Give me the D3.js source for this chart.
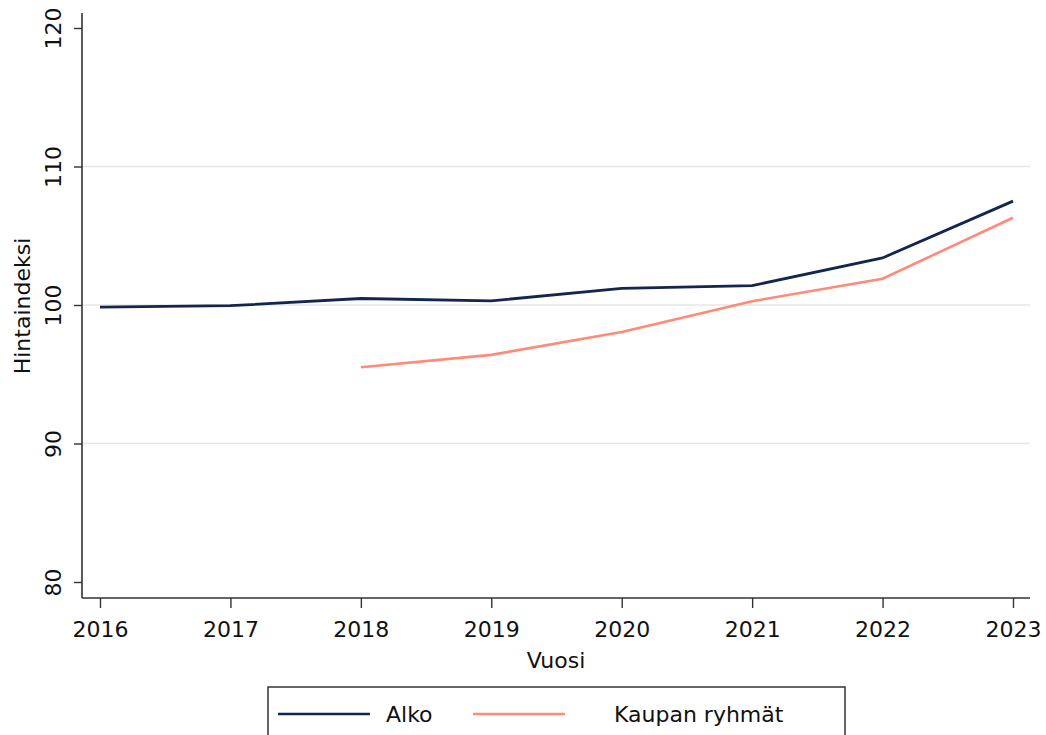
<!DOCTYPE html>
<html>
<head>
<meta charset="utf-8">
<script src="https://cdn.jsdelivr.net/npm/d3@7"></script>
<style>
  body { margin: 0; background: #fff; }
  svg text { font-family: "DejaVu Sans", "Noto Sans", sans-serif; fill: #111; }
</style>
</head>
<body>
<svg id="chart"></svg>
<script>
// data
let years = [2016, 2017, 2018, 2019, 2020, 2021, 2022, 2023];
let alko = [99.85, 99.95, 100.47, 100.3, 101.2, 101.4, 103.4, 107.5];
let kaupanYears = [2018, 2019, 2020, 2021, 2022, 2023];
let kaupan = [95.5, 96.4, 98.05, 100.27, 101.9, 106.3];
let yTicks = [80, 90, 100, 110, 120];
let gridTicks = [90, 100, 110];

let width = 1046, height = 735;
let svg = d3.select("#chart").attr("width", width).attr("height", height);

let x = d3.scaleLinear().domain([2016, 2023]).range([100, 1013]);
let y = d3.scaleLinear().domain([80, 120]).range([582, 28]);

// grid lines
svg.append("g")
  .selectAll("line")
  .data(gridTicks)
  .join("line")
  .attr("x1", 83).attr("x2", 1030)
  .attr("y1", d => y(d)).attr("y2", d => y(d))
  .attr("stroke", "#e6e6e6")
  .attr("stroke-width", 1.3);

// y axis
let yAxis = svg.append("g")
  .attr("transform", "translate(82,0)")
  .call(d3.axisLeft(y).tickValues(yTicks).tickSize(8).tickFormat(d3.format("d")));
yAxis.select(".domain").attr("d", "M0,13V598").attr("stroke", "#333").attr("stroke-width", 1.6);
yAxis.selectAll(".tick line").attr("stroke", "#333").attr("stroke-width", 1.4);
yAxis.selectAll(".tick text")
  .attr("x", 0).attr("dy", 0)
  .attr("transform", "translate(-29,0) rotate(-90)")
  .attr("text-anchor", "middle")
  .attr("dominant-baseline", "central")
  .style("font-size", "22px");

// x axis
let xAxis = svg.append("g")
  .attr("transform", "translate(0,598)")
  .call(d3.axisBottom(x).tickValues(years).tickSize(10).tickFormat(d3.format("d")));
xAxis.select(".domain").attr("d", "M82,0H1030").attr("stroke", "#333").attr("stroke-width", 1.6);
xAxis.selectAll(".tick line").attr("stroke", "#333").attr("stroke-width", 1.4);
xAxis.selectAll(".tick text").attr("y", 23).attr("dy", "0.71em").style("font-size", "22px");

// axis titles
svg.append("text")
  .attr("transform", "translate(30,306) rotate(-90)")
  .attr("text-anchor", "middle")
  .style("font-size", "22px")
  .text("Hintaindeksi");

svg.append("text")
  .attr("x", 556).attr("y", 668)
  .attr("text-anchor", "middle")
  .style("font-size", "22px")
  .text("Vuosi");

// lines
let line = d3.line().x(d => x(d[0])).y(d => y(d[1]));

svg.append("path")
  .datum(kaupanYears.map((yr, i) => [yr, kaupan[i]]))
  .attr("fill", "none")
  .attr("stroke", "#ff8a78")
  .attr("stroke-width", 2.6)
  .attr("d", line);

svg.append("path")
  .datum(years.map((yr, i) => [yr, alko[i]]))
  .attr("fill", "none")
  .attr("stroke", "#13264d")
  .attr("stroke-width", 2.8)
  .attr("d", line);

// legend
let legend = svg.append("g");
legend.append("rect")
  .attr("x", 268).attr("y", 687)
  .attr("width", 577).attr("height", 60)
  .attr("fill", "#fff")
  .attr("stroke", "#333")
  .attr("stroke-width", 1.5);

let legendItems = [
  { name: "Alko", color: "#13264d", x0: 278, tx: 386 },
  { name: "Kaupan ryhmät", color: "#ff8a78", x0: 473, tx: 614 }
];
legendItems.forEach(item => {
  legend.append("line")
    .attr("x1", item.x0).attr("x2", item.x0 + 92)
    .attr("y1", 714).attr("y2", 714)
    .attr("stroke", item.color).attr("stroke-width", 2.6);
  legend.append("text")
    .attr("x", item.tx).attr("y", 722)
    .style("font-size", "22px")
    .text(item.name);
});
</script>
</body>
</html>
